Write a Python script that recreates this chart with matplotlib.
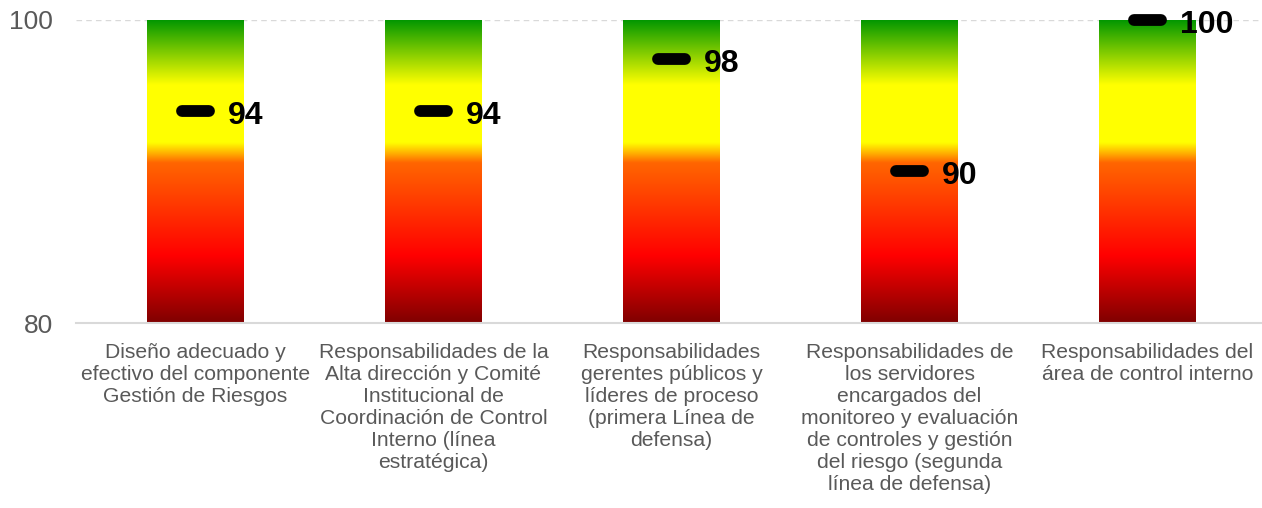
import numpy as np
import matplotlib
matplotlib.use("Agg")
import matplotlib.pyplot as plt
from matplotlib.colors import LinearSegmentedColormap

categories = [
    "Diseño adecuado y\nefectivo del componente\nGestión de Riesgos",
    "Responsabilidades de la\nAlta dirección y Comité\nInstitucional de\nCoordinación de Control\nInterno (línea\nestratégica)",
    "Responsabilidades\ngerentes públicos y\nlíderes de proceso\n(primera Línea de\ndefensa)",
    "Responsabilidades de\nlos servidores\nencargados del\nmonitoreo y evaluación\nde controles y gestión\ndel riesgo (segunda\nlínea de defensa)",
    "Responsabilidades del\nárea de control interno",
]
values = [94, 94, 97.4, 90, 100]
value_labels = ["94", "94", "98", "90", "100"]
bar_top = [100, 100, 100, 100, 100]
y_ticks = [80, 100]

plt.rcParams['font.family'] = ['Liberation Sans', 'DejaVu Sans']

fig = plt.figure(figsize=(12.62, 5.08), dpi=100)
ax = fig.add_axes([0.0606, 0.364, 0.943, 0.597])

ymin, ymax = 80, 100
x = np.arange(len(categories))
bw = 0.405

cmap = LinearSegmentedColormap.from_list("grad", [
    (0.0, (0.50, 0.0, 0.0)),
    (0.22, (1.0, 0.0, 0.0)),
    (0.528, (1.0, 0.40, 0.0)),
    (0.56, (1.0, 0.70, 0.0)),
    (0.594, (1.0, 1.0, 0.0)),
    (0.785, (1.0, 1.0, 0.0)),
    (1.0, (0.0, 0.59, 0.0)),
])
grad = np.linspace(0, 1, 256).reshape(-1, 1)

bars = ax.bar(x, [t - ymin for t in bar_top], bottom=ymin, width=bw, color='none', edgecolor='none', zorder=2)
for b in bars:
    x0 = b.get_x()
    im = ax.imshow(grad, cmap=cmap, origin='lower', aspect='auto',
                   extent=[x0, x0 + b.get_width(), ymin, b.get_y() + b.get_height()],
                   zorder=2, interpolation='bilinear')
    im.set_clip_path(b)

for xi, v, lab in zip(x, values, value_labels):
    ax.plot([xi - 0.055, xi + 0.055], [v, v], color='black', lw=8.5,
            solid_capstyle='round', zorder=4, clip_on=False)
    ax.annotate(lab, xy=(xi + 0.135, v), xytext=(0, -3.5), textcoords='offset points',
                fontsize=23, fontweight='bold', color='black',
                va='center', ha='left', zorder=5)

ax.set_xlim(-0.5, len(categories) - 0.5)
ax.set_ylim(ymin, ymax)
ax.set_yticks(y_ticks)
ax.set_yticklabels([str(t) for t in y_ticks], fontsize=19, color='#595959')
ax.set_xticks(x)
ax.set_xticklabels(categories, fontsize=15.2, color='#595959', linespacing=1.21, va='top')
ax.tick_params(axis='both', length=0)
ax.tick_params(axis='y', pad=17)
ax.tick_params(axis='x', pad=14)

for s in ['top', 'right', 'left']:
    ax.spines[s].set_visible(False)
ax.spines['bottom'].set_color('#d9d9d9')
ax.spines['bottom'].set_linewidth(1.5)
ax.axhline(100, color='#d9d9d9', lw=1, ls=(0, (4, 3)), zorder=1)

fig.savefig("out.png", dpi=100)
